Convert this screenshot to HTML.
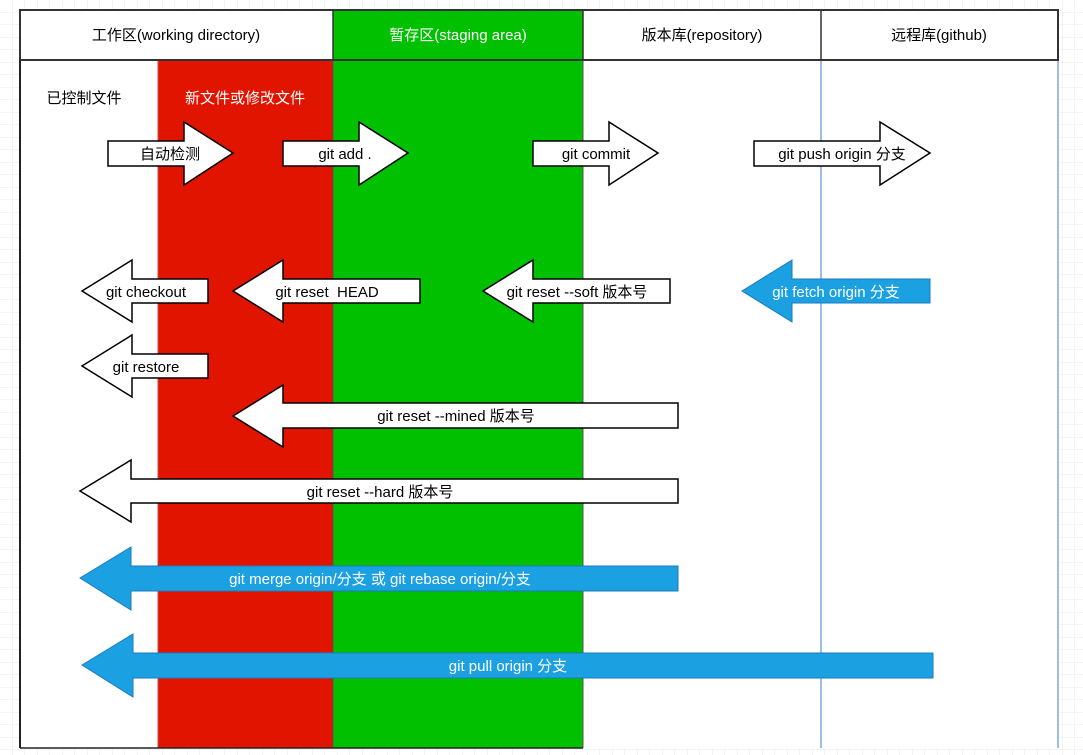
<!DOCTYPE html>
<html><head><meta charset="utf-8"><style>
html,body{margin:0;padding:0;background:#fff;}
svg{display:block;}
text{font-family:"Liberation Sans","Noto Sans CJK SC",sans-serif;font-size:15px;}
</style></head><body>
<svg width="1083" height="755" xmlns="http://www.w3.org/2000/svg">
<defs>
<pattern id="g" width="12.5" height="12.5" patternUnits="userSpaceOnUse">
<path d="M12.5 0V12.5H0" fill="none" stroke="#e8e8e8" stroke-width="1"/>
</pattern>
</defs>
<rect width="1083" height="755" fill="url(#g)"/>
<rect x="20" y="10" width="1038" height="738" fill="#fff"/>
<rect x="158" y="60" width="175" height="688" fill="#e11400"/>
<rect x="333" y="10" width="250" height="738" fill="#00c000"/>
<line x1="821" y1="60" x2="821" y2="748" stroke="#7ea6e0" stroke-width="1.5"/>
<line x1="1058" y1="60" x2="1058" y2="748" stroke="#7ea6e0" stroke-width="1.5"/>
<line x1="158" y1="60" x2="158" y2="748" stroke="#b85450" stroke-width="1"/>
<line x1="333" y1="60" x2="333" y2="748" stroke="#555" stroke-width="1"/>
<line x1="583" y1="60" x2="583" y2="748" stroke="#555" stroke-width="1"/>
<rect x="20" y="10" width="1038" height="50" fill="none" stroke="#333" stroke-width="2"/>
<line x1="333" y1="10" x2="333" y2="60" stroke="#333" stroke-width="1.5"/>
<line x1="583" y1="10" x2="583" y2="60" stroke="#333" stroke-width="1.5"/>
<line x1="821" y1="10" x2="821" y2="60" stroke="#333" stroke-width="1.5"/>
<line x1="20" y1="60" x2="20" y2="748" stroke="#222" stroke-width="2"/>
<line x1="20" y1="748" x2="583" y2="748" stroke="#222" stroke-width="1.5"/>
<text x="176" y="40" text-anchor="middle">工作区(working directory)</text>
<text x="458" y="40" text-anchor="middle" fill="#fff">暂存区(staging area)</text>
<text x="702" y="40" text-anchor="middle">版本库(repository)</text>
<text x="939" y="40" text-anchor="middle">远程库(github)</text>
<text x="84" y="103" text-anchor="middle">已控制文件</text>
<text x="245" y="103" text-anchor="middle" fill="#fff">新文件或修改文件</text>
<g stroke="#000" stroke-width="1.5" fill="#fff">
<path d="M108 141H184V122L233 153L184 185V166H108Z"/>
<path d="M283 141H359V122L408 153L359 185V166H283Z"/>
<path d="M533 141H609V122L658 153L609 185V166H533Z"/>
<path d="M754 141H880V122L930 153L880 185V166H754Z"/>
<path d="M82 291L132 260V279H208V303H132V322Z"/>
<path d="M233 291L283 260V279H420V303H283V322Z"/>
<path d="M483 291L533 260V279H670V303H533V322Z"/>
<path d="M82 366L132 335V354H208V378H132V397Z"/>
<path d="M233 416L283 385V403H678V428H283V447Z"/>
<path d="M80 491L131 460V479H678V503H131V522Z"/>
</g>
<g stroke="#1a7bbf" stroke-width="1" fill="#1ba1e2">
<path d="M742 291L792 260V279H930V303H792V322Z"/>
<path d="M80 578L131 547V566H678V591H131V610Z"/>
<path d="M82 665L133 634V653H933V678H133V697Z"/>
</g>
<g text-anchor="middle">
<text x="170" y="159">自动检测</text>
<text x="345" y="159">git add .</text>
<text x="596" y="159">git commit</text>
<text x="842" y="159">git push origin 分支</text>
<text x="146" y="297">git checkout</text>
<text x="327" y="297">git reset &#160;HEAD</text>
<text x="577" y="297">git reset --soft 版本号</text>
<text x="836" y="297" fill="#fff">git fetch origin 分支</text>
<text x="146" y="372">git restore</text>
<text x="456" y="421">git reset --mined 版本号</text>
<text x="380" y="497">git reset --hard 版本号</text>
<text x="380" y="584" fill="#fff">git merge origin/分支 或 git rebase origin/分支</text>
<text x="508" y="671" fill="#fff">git pull origin 分支</text>
</g>
</svg>
</body></html>
